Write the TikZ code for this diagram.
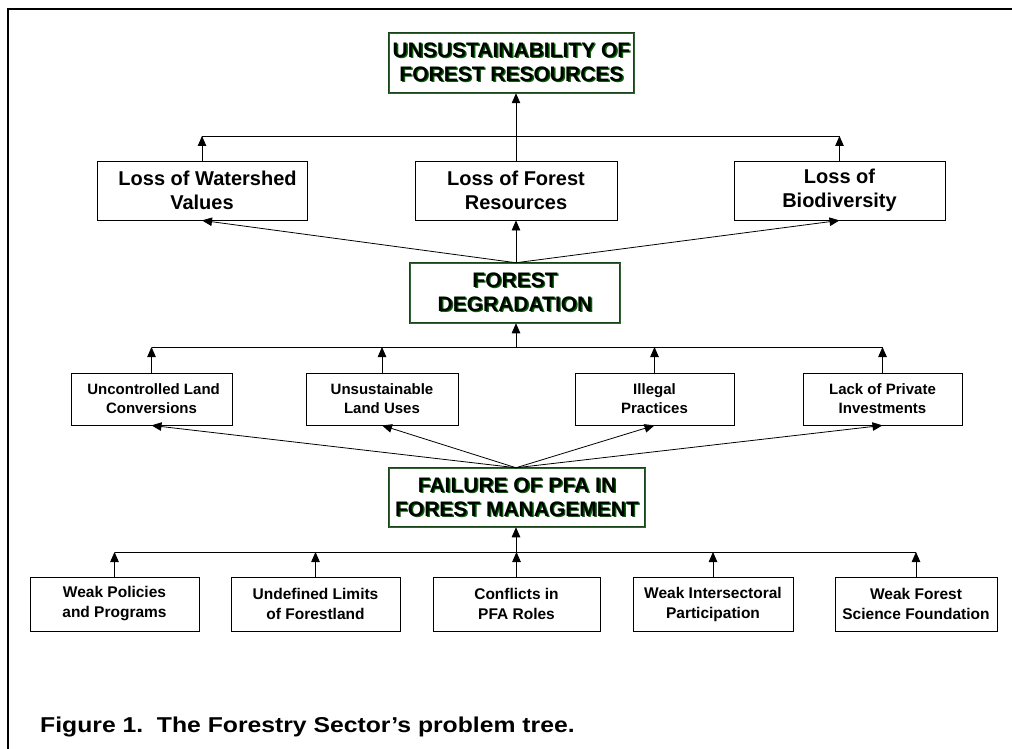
\documentclass[tikz,border=0pt]{standalone}
\usepackage{fontspec}
\setmainfont{Liberation Sans}
\usetikzlibrary{arrows.meta}
\definecolor{shgreen}{RGB}{0,105,0}
\definecolor{bxgreen}{RGB}{25,115,25}
\newcommand\shd[1]{\leavevmode\rlap{\kern1.4pt\raisebox{-1.4pt}{\textcolor{shgreen}{#1}}}#1}
\begin{document}
\begin{tikzpicture}[x=1pt,y=-1pt,
  box/.style={draw=black, line width=0.8pt, fill=white, align=center, inner sep=2pt},
  lvltwo/.style={box, minimum height=59pt, font=\fontsize{20}{24}\selectfont\bfseries},
  lvlfour/.style={box, minimum height=52pt, font=\fontsize{15}{19}\selectfont\bfseries},
  lvlfive/.style={box, minimum height=54pt, font=\fontsize{15.5}{20}\selectfont\bfseries},
  keybox/.style={draw=black!80, double=bxgreen, double distance=0.9pt, line width=0.5pt,
    fill=white, align=center, inner sep=2pt, font=\fontsize{21}{24}\selectfont\bfseries},
  arr/.style={-{Triangle[length=10pt,width=8.5pt]}, line width=0.8pt},
  ln/.style={line width=0.8pt}]
\useasboundingbox (0,0) rectangle (1012,749);
\draw[line width=2pt] (8,749) -- (8,9) -- (1012,9);

% key problems
\node[keybox, minimum width=245pt, minimum height=60pt] (T) at (511.5,63)
  {\shd{UNSUSTAINABILITY OF}\\\shd{FOREST RESOURCES}};
\node[keybox, minimum width=210pt, minimum height=60pt] (FD) at (515,293)
  {\shd{FOREST}\\\shd{DEGRADATION}};
\node[keybox, minimum width=256pt, minimum height=59pt] (FA) at (517,497.5)
  {\shd{FAILURE OF PFA IN}\\\shd{FOREST MANAGEMENT}};

% level 2
\node[lvltwo, minimum width=210pt] (WS) at (202,190.5) {\ \ Loss of Watershed\\Values};
\node[lvltwo, minimum width=202pt] (FR) at (516,190.5) {Loss of Forest\\Resources};
\node[lvltwo, minimum width=211pt] (BD) at (839.5,190.5) {Loss of\\Biodiversity};

% level 4
\node[lvlfour, minimum width=161pt] (UC) at (151.5,399) {\ Uncontrolled Land\\Conversions};
\node[lvlfour, minimum width=152pt] (UL) at (382,399) {Unsustainable\\Land Uses};
\node[lvlfour, minimum width=159pt] (IP) at (654.5,399) {Illegal\\Practices};
\node[lvlfour, minimum width=159pt] (LP) at (882.5,399) {Lack of Private\\Investments};

% level 5
\node[lvlfive, minimum width=169pt] (WP) at (114.5,604) {Weak Policies\\and Programs};
\node[lvlfive, minimum width=169pt] (UD) at (315.5,604) {Undefined Limits\\of Forestland};
\node[lvlfive, minimum width=167pt] (CF) at (516.5,604) {Conflicts in\\PFA Roles};
\node[lvlfive, minimum width=160pt] (WI) at (713,604) {Weak Intersectoral\\Participation};
\node[lvlfive, minimum width=162pt] (WF) at (916,604) {Weak Forest\\Science Foundation};

% junctions
\coordinate (j1) at (516,136);
\coordinate (j2) at (516,347);
\coordinate (j3) at (516,552);

% top level
\draw[ln] (WS.north |- j1) -- (BD.north |- j1);
\draw[arr] (WS.north) -- (WS.north |- j1);
\draw[arr] (BD.north) -- (BD.north |- j1);
\draw[ln] (FR.north) -- (j1);
\draw[arr] (j1) -- (j1 |- T.south);
\draw[arr] (FD.north -| j1) -- (WS.south);
\draw[arr] (FD.north -| j1) -- (FR.south);
\draw[arr] (FD.north -| j1) -- (BD.south);

% middle level
\draw[ln] (UC.north |- j2) -- (LP.north |- j2);
\draw[arr] (UC.north) -- (UC.north |- j2);
\draw[arr] (UL.north) -- (UL.north |- j2);
\draw[arr] (IP.north) -- (IP.north |- j2);
\draw[arr] (LP.north) -- (LP.north |- j2);
\draw[arr] (j2) -- (j2 |- FD.south);
\draw[arr] (FA.north -| j2) -- (UC.south);
\draw[arr] (FA.north -| j2) -- (UL.south);
\draw[arr] (FA.north -| j2) -- (IP.south);
\draw[arr] (FA.north -| j2) -- (LP.south);

% bottom level
\draw[ln] (WP.north |- j3) -- (WF.north |- j3);
\draw[arr] (WP.north) -- (WP.north |- j3);
\draw[arr] (UD.north) -- (UD.north |- j3);
\draw[arr] (CF.north) -- (CF.north |- j3);
\draw[arr] (WI.north) -- (WI.north |- j3);
\draw[arr] (WF.north) -- (WF.north |- j3);
\draw[arr] (j3) -- (j3 |- FA.south);

% caption
\node[anchor=base west, inner sep=0pt, font=\fontsize{21.5}{26}\selectfont\bfseries] (cap) at (40,732)
  {\scalebox{1.15}[1]{Figure 1.\ \ The Forestry Sector’s problem tree.}};
\end{tikzpicture}
\end{document}
